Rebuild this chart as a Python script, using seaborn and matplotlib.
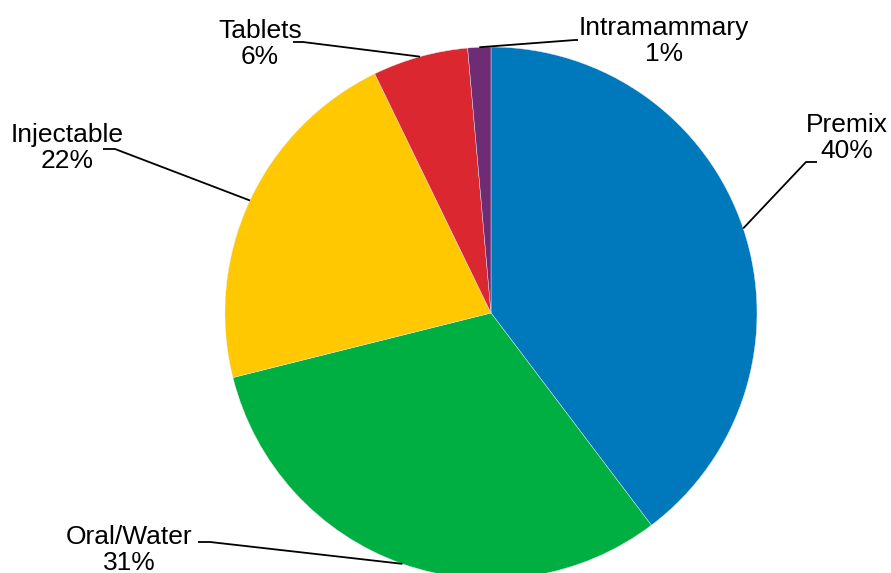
import numpy as np
import matplotlib
matplotlib.use("Agg")
import matplotlib.pyplot as plt
import seaborn as sns

# ---- data ----
categories = ["Premix", "Oral/Water", "Injectable", "Tablets", "Intramammary"]
shares = [39.7, 31.4, 21.7, 5.8, 1.4]
colors = ["#0079BC", "#00AF41", "#FFC800", "#DB2830", "#6E2C74"]

sns.set_theme(style="white")
plt.rcParams["font.family"] = ["Liberation Sans", "DejaVu Sans"]

W, H = 891, 573
CX, CY, R = 491, 313, 266  # pixel layout of the pie

fig = plt.figure(figsize=(W / 100, H / 100), dpi=100)
ax = fig.add_axes([0, 0, 1, 1])

wedges, _ = ax.pie(shares, colors=colors, startangle=90, counterclock=False,
                   radius=1.0, center=(0, 0),
                   wedgeprops=dict(edgecolor="#E8E8F0", linewidth=0.3))
ax.set_aspect("auto")
ax.set_xlim(-CX / R, (W - CX) / R)
ax.set_ylim(-(H - CY) / R, CY / R)
ax.axis("off")


def px(x, y):
    return ((x - CX) / R, (CY - y) / R)


# label layout (pixel positions): text centre, elbow, horizontal end
layout = {
    "Premix": dict(text=(847, 138), elbow=(806, 162), end=(817, 162)),
    "Oral/Water": dict(text=(129, 550), elbow=(210, 542), end=(198, 542)),
    "Injectable": dict(text=(67, 148), elbow=(115, 149), end=(103, 149)),
    "Tablets": dict(text=(260, 44), elbow=(303, 42), end=(293, 42)),
    "Intramammary": dict(text=(664, 41), elbow=(575, 40), end=(578, 40)),
}

for w, cat, val in zip(wedges, categories, shares):
    mid = np.deg2rad((w.theta1 + w.theta2) / 2)
    ex, ey = np.cos(mid) * w.r, np.sin(mid) * w.r
    L = layout[cat]
    bx, by = px(*L["elbow"])
    hx, hy = px(*L["end"])
    ax.plot([ex, bx, hx], [ey, by, hy], color="black", lw=1.3,
            solid_capstyle="butt", zorder=5)
    tx, ty = px(*L["text"])
    ax.text(tx, ty, f"{cat}\n{val:.0f}%", ha="center", va="center",
            fontsize=19, color="black", linespacing=1.15, zorder=6)

fig.savefig("out.png", dpi=100)
